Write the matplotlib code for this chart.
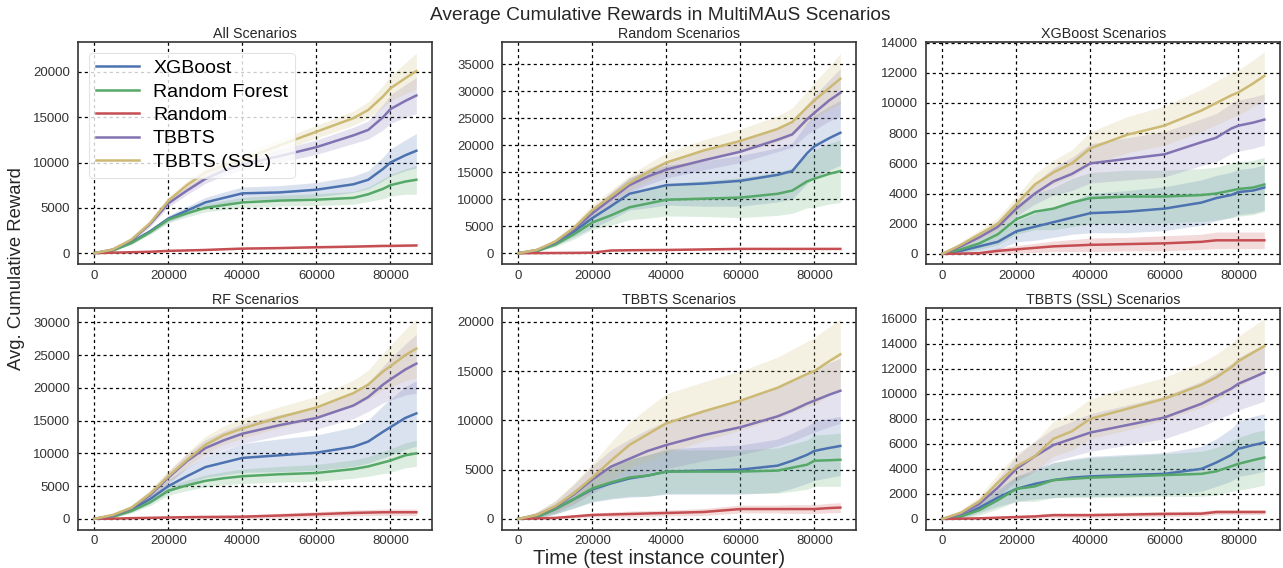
import matplotlib
matplotlib.use("Agg")
import matplotlib.pyplot as plt
import numpy as np

# time axis (test instance counter)
steps = [0, 5000, 10000, 15000, 20000, 25000, 30000, 35000, 40000, 50000,
         60000, 70000, 74000, 78000, 80000, 84000, 87000]

methods = ["XGBoost", "Random Forest", "Random", "TBBTS", "TBBTS (SSL)"]
colors = ["#4C72B0", "#55A868", "#C44E52", "#8172B2", "#CCB974"]

titles = ["All Scenarios", "Random Scenarios", "XGBoost Scenarios",
          "RF Scenarios", "TBBTS Scenarios", "TBBTS (SSL) Scenarios"]

# --- All Scenarios
all_xgb = [0, 300, 1200, 2400, 3800, 4700, 5600, 6100, 6600, 6700, 7000, 7600, 8100, 9300, 10000, 10800, 11300]
all_xgb_sd = [0, 50, 150, 250, 350, 450, 550, 650, 700, 750, 800, 900, 1000, 1300, 1500, 1700, 1900]
all_rf = [0, 300, 1100, 2300, 3700, 4400, 5000, 5300, 5600, 5800, 5900, 6100, 6500, 7100, 7500, 7900, 8100]
all_rf_sd = [0, 50, 150, 250, 350, 400, 450, 500, 550, 600, 650, 700, 800, 1100, 1200, 1400, 1600]
all_rnd = [0, 50, 100, 150, 250, 300, 350, 430, 500, 560, 650, 720, 760, 800, 800, 830, 850]
all_rnd_sd = [0, 10, 20, 30, 40, 50, 60, 70, 80, 90, 100, 110, 110, 120, 120, 130, 130]
all_tb = [0, 400, 1400, 3200, 5500, 6900, 8200, 9100, 9800, 10700, 11700, 13000, 13600, 15000, 15900, 16800, 17400]
all_tb_sd = [0, 100, 200, 300, 400, 450, 500, 550, 600, 700, 800, 900, 1000, 1400, 1600, 1800, 2000]
all_ssl = [0, 400, 1500, 3300, 5800, 7500, 8900, 9700, 10300, 11900, 13400, 14900, 15800, 17300, 18200, 19300, 20100]
all_ssl_sd = [0, 100, 200, 300, 400, 450, 500, 550, 600, 650, 700, 800, 900, 1200, 1400, 1700, 2000]

# --- Random Scenarios
rnd_xgb = [0, 400, 1800, 4000, 6500, 8700, 11000, 11800, 12600, 12900, 13400, 14500, 15200, 18500, 19800, 21300, 22300]
rnd_xgb_sd = [0, 100, 400, 1000, 1800, 2500, 3000, 3400, 3700, 4200, 4700, 5000, 5200, 5600, 5800, 5900, 6000]
rnd_rf = [0, 400, 1600, 3500, 5700, 7000, 8500, 9200, 9900, 10100, 10300, 11000, 11600, 13300, 13800, 14700, 15200]
rnd_rf_sd = [0, 100, 400, 900, 1300, 1800, 2300, 2700, 3000, 3300, 3700, 4000, 4200, 4900, 5300, 5600, 5800]
rnd_rnd = [0, 20, 40, 60, 100, 500, 550, 580, 600, 700, 800, 800, 800, 800, 800, 800, 800]
rnd_rnd_sd = [0, 10, 20, 30, 40, 80, 90, 100, 100, 110, 120, 120, 120, 120, 120, 120, 120]
rnd_tb = [0, 600, 2000, 4400, 7400, 10000, 12600, 14200, 15500, 17200, 18800, 21000, 22000, 24800, 26000, 28300, 29700]
rnd_tb_sd = [0, 200, 400, 700, 1000, 1200, 1300, 1500, 1600, 1800, 2000, 2200, 2400, 2800, 3200, 3800, 4500]
rnd_ssl = [0, 600, 2200, 4700, 8000, 10500, 13000, 15000, 16800, 19000, 20800, 23000, 24300, 27000, 28300, 30600, 32300]
rnd_ssl_sd = [0, 200, 400, 700, 1000, 1200, 1400, 1600, 1800, 2000, 2200, 2400, 2600, 3000, 3300, 4000, 4700]

# --- XGBoost Scenarios
xgb_xgb = [0, 200, 500, 800, 1500, 1800, 2100, 2400, 2700, 2800, 3000, 3400, 3700, 3900, 4100, 4200, 4400]
xgb_xgb_sd = [0, 150, 300, 500, 700, 900, 1000, 1100, 1300, 1400, 1450, 1500, 1500, 1500, 1500, 1500, 1500]
xgb_rf = [0, 300, 700, 1300, 2300, 2800, 3000, 3400, 3700, 3800, 3800, 3900, 4000, 4200, 4300, 4400, 4600]
xgb_rf_sd = [0, 200, 400, 700, 1000, 1200, 1400, 1600, 1700, 1750, 1750, 1750, 1750, 1800, 1800, 1800, 1800]
xgb_rnd = [0, 20, 50, 200, 300, 400, 500, 550, 600, 650, 700, 800, 900, 900, 900, 900, 900]
xgb_rnd_sd = [0, 50, 100, 200, 250, 300, 350, 400, 450, 450, 500, 500, 550, 550, 550, 550, 550]
xgb_tb = [0, 500, 1100, 1800, 3000, 4000, 4800, 5300, 6000, 6300, 6600, 7400, 7700, 8300, 8500, 8700, 8900]
xgb_tb_sd = [0, 150, 250, 400, 500, 700, 900, 1100, 1300, 1400, 1500, 1550, 1600, 1650, 1700, 1700, 1700]
xgb_ssl = [0, 600, 1300, 2000, 3300, 4600, 5400, 6000, 7000, 7900, 8500, 9500, 10000, 10500, 10700, 11300, 11800]
xgb_ssl_sd = [0, 200, 300, 400, 500, 700, 800, 900, 1100, 1200, 1300, 1400, 1450, 1500, 1500, 1550, 1600]

# --- RF Scenarios
rf_xgb = [0, 400, 1400, 3000, 5000, 6500, 7900, 8600, 9300, 9700, 10100, 11000, 11800, 13300, 14000, 15400, 16100]
rf_xgb_sd = [0, 200, 400, 700, 1000, 1300, 1600, 1900, 2200, 2500, 2700, 3000, 3300, 4000, 4300, 4800, 5000]
rf_rf = [0, 300, 1200, 2500, 4300, 5100, 5800, 6200, 6500, 6800, 7000, 7600, 8000, 8600, 8900, 9700, 10000]
rf_rf_sd = [0, 100, 300, 500, 700, 800, 900, 1000, 1100, 1200, 1300, 1400, 1500, 1700, 1800, 1900, 2000]
rf_rnd = [0, 20, 100, 150, 200, 250, 280, 300, 320, 500, 700, 900, 950, 1000, 1000, 1000, 1000]
rf_rnd_sd = [0, 20, 50, 80, 100, 150, 200, 250, 300, 350, 400, 450, 480, 500, 500, 500, 500]
rf_tb = [0, 500, 1600, 3600, 6300, 8800, 10800, 12000, 13000, 14300, 15400, 17300, 18600, 20500, 21300, 22800, 23700]
rf_tb_sd = [0, 200, 400, 600, 900, 1100, 1300, 1400, 1500, 1600, 1700, 2000, 2200, 2800, 3200, 3900, 4500]
rf_ssl = [0, 600, 1700, 3800, 6500, 9000, 11300, 12800, 13800, 15500, 17000, 19200, 20500, 22500, 23300, 25000, 26000]
rf_ssl_sd = [0, 200, 400, 600, 900, 1100, 1300, 1400, 1500, 1600, 1700, 2000, 2200, 2800, 3200, 3900, 4500]

# --- TBBTS Scenarios
tb_xgb = [0, 200, 1000, 2000, 3000, 3600, 4100, 4400, 4800, 4900, 5000, 5400, 5900, 6500, 6900, 7200, 7400]
tb_xgb_sd = [0, 200, 500, 900, 1300, 1600, 1900, 2100, 2300, 2400, 2500, 2700, 2800, 2900, 3000, 3000, 3000]
tb_rf = [0, 200, 1000, 2000, 3100, 3700, 4200, 4400, 4800, 4800, 4800, 4900, 5200, 5500, 5900, 5950, 6000]
tb_rf_sd = [0, 200, 500, 900, 1300, 1600, 1900, 2100, 2200, 2200, 2200, 2300, 2400, 2500, 2600, 2650, 2700]
tb_rnd = [0, 50, 100, 250, 400, 450, 500, 550, 600, 700, 1000, 1000, 1000, 1000, 1000, 1100, 1150]
tb_rnd_sd = [0, 50, 100, 150, 200, 250, 300, 300, 300, 350, 400, 400, 450, 450, 450, 480, 500]
tb_tb = [0, 400, 1200, 2500, 4000, 5300, 6100, 6900, 7500, 8500, 9300, 10400, 11000, 11700, 12000, 12600, 13000]
tb_tb_sd = [0, 300, 600, 1000, 1400, 1700, 2000, 2200, 2400, 2600, 2800, 3000, 3100, 3200, 3200, 3250, 3300]
tb_ssl = [0, 400, 1300, 2600, 4200, 5900, 7500, 8600, 9700, 10900, 12000, 13300, 14000, 14700, 15000, 16000, 16700]
tb_ssl_sd = [0, 300, 600, 1000, 1400, 1900, 2300, 2700, 3000, 3000, 3000, 3100, 3200, 3300, 3400, 3500, 3600]

# --- TBBTS (SSL) Scenarios
ssl_xgb = [0, 200, 900, 1700, 2400, 2800, 3100, 3300, 3400, 3500, 3600, 4000, 4500, 5100, 5600, 5900, 6100]
ssl_xgb_sd = [0, 200, 400, 700, 1000, 1200, 1400, 1500, 1600, 1650, 1700, 1800, 1900, 2100, 2200, 2300, 2300]
ssl_rf = [0, 200, 700, 1500, 2400, 2600, 3100, 3200, 3300, 3400, 3500, 3600, 3800, 4200, 4400, 4700, 4900]
ssl_rf_sd = [0, 200, 400, 700, 1000, 1200, 1400, 1500, 1600, 1650, 1700, 1800, 1900, 2000, 2100, 2200, 2200]
ssl_rnd = [0, 20, 50, 100, 150, 200, 300, 300, 300, 350, 400, 420, 550, 550, 550, 550, 550]
ssl_rnd_sd = [0, 30, 60, 100, 130, 150, 180, 180, 180, 190, 200, 200, 200, 200, 200, 200, 200]
ssl_tb = [0, 400, 1200, 2500, 4000, 5000, 5900, 6400, 6900, 7500, 8100, 9200, 9800, 10400, 10800, 11300, 11700]
ssl_tb_sd = [0, 200, 400, 700, 1000, 1200, 1300, 1400, 1500, 1600, 1700, 1800, 1900, 2000, 2100, 2200, 2300]
ssl_ssl = [0, 500, 1400, 2900, 4200, 5000, 6400, 7000, 8000, 8800, 9600, 10700, 11300, 12100, 12600, 13300, 13800]
ssl_ssl_sd = [0, 200, 400, 700, 1000, 1200, 1400, 1500, 1600, 1700, 1700, 1800, 1850, 1900, 2000, 2100, 2200]

y_ticks = [range(0, 20001, 5000), range(0, 35001, 5000), range(0, 14001, 2000),
           range(0, 30001, 5000), range(0, 20001, 5000), range(0, 16001, 2000)]
y_limits = [(-1200, 23300), (-2000, 39100), (-670, 14040),
            (-1700, 32200), (-1120, 21400), (-880, 16850)]

panels = [
    [(all_xgb, all_xgb_sd), (all_rf, all_rf_sd), (all_rnd, all_rnd_sd), (all_tb, all_tb_sd), (all_ssl, all_ssl_sd)],
    [(rnd_xgb, rnd_xgb_sd), (rnd_rf, rnd_rf_sd), (rnd_rnd, rnd_rnd_sd), (rnd_tb, rnd_tb_sd), (rnd_ssl, rnd_ssl_sd)],
    [(xgb_xgb, xgb_xgb_sd), (xgb_rf, xgb_rf_sd), (xgb_rnd, xgb_rnd_sd), (xgb_tb, xgb_tb_sd), (xgb_ssl, xgb_ssl_sd)],
    [(rf_xgb, rf_xgb_sd), (rf_rf, rf_rf_sd), (rf_rnd, rf_rnd_sd), (rf_tb, rf_tb_sd), (rf_ssl, rf_ssl_sd)],
    [(tb_xgb, tb_xgb_sd), (tb_rf, tb_rf_sd), (tb_rnd, tb_rnd_sd), (tb_tb, tb_tb_sd), (tb_ssl, tb_ssl_sd)],
    [(ssl_xgb, ssl_xgb_sd), (ssl_rf, ssl_rf_sd), (ssl_rnd, ssl_rnd_sd), (ssl_tb, ssl_tb_sd), (ssl_ssl, ssl_ssl_sd)],
]

plt.rcParams["font.family"] = ["Liberation Sans", "DejaVu Sans"]

fig, axes = plt.subplots(2, 3, figsize=(12.83, 5.68), dpi=100)
fig.subplots_adjust(left=0.061, right=0.998, top=0.926, bottom=0.067,
                    wspace=0.197, hspace=0.198)

x = np.array(steps)
for i, ax in enumerate(axes.flat):
    for (mean, sd), name, c in zip(panels[i], methods, colors):
        m = np.array(mean, dtype=float)
        s = np.array(sd, dtype=float)
        ax.fill_between(x, m - s, m + s, color=c, alpha=0.2, linewidth=0)
        ax.plot(x, m, color=c, lw=1.8, label=name)
    ax.set_title(titles[i], fontsize=10.3, color="#262626", pad=3)
    ax.set_xlim(-4350, 91350)
    ax.set_ylim(*y_limits[i])
    ax.set_xticks([0, 20000, 40000, 60000, 80000])
    ax.set_yticks(list(y_ticks[i]))
    ax.grid(True, color="black", linestyle=(0, (2.5, 2.5)), linewidth=0.9)
    ax.set_axisbelow(True)
    ax.tick_params(length=0, labelsize=9.5, colors="#333333")
    ax.tick_params(axis="x", pad=4)
    ax.tick_params(axis="y", pad=6)
    for sp in ax.spines.values():
        sp.set_color("#333333")
        sp.set_linewidth(1.2)

leg = axes[0, 0].legend(loc="upper left", fontsize=14, handlelength=2.2,
                        handletextpad=0.75, frameon=True, framealpha=0.8,
                        borderaxespad=0.55, borderpad=0.35, labelspacing=0.3)
leg.get_frame().set_edgecolor("#dddddd")
leg.get_frame().set_linewidth(0.8)

fig.suptitle("Average Cumulative Rewards in MultiMAuS Scenarios", x=0.5145, y=0.988,
             fontsize=13.8, color="#262626")
fig.text(0.514, 0.0, "Time (test instance counter)", ha="center", va="bottom",
         fontsize=14.7, color="#262626")
fig.text(0.006, 0.528, "Avg. Cumulative Reward", rotation=90, ha="left", va="center",
         fontsize=13.3, color="#262626")

fig.savefig("out.png", dpi=100)
